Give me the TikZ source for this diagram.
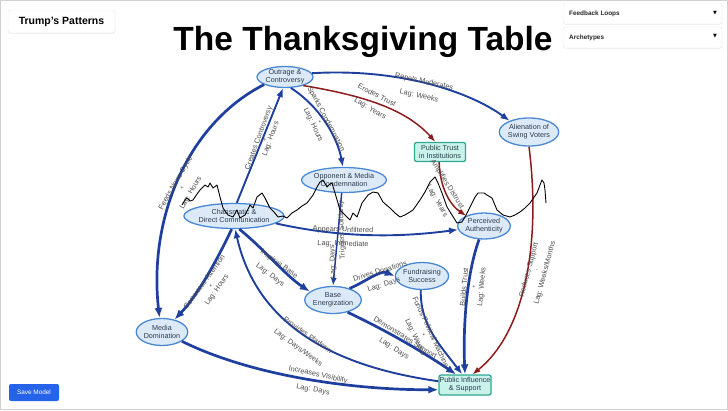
\documentclass[tikz,border=0pt]{standalone}
\usepackage{fontspec}
\setmainfont{Liberation Sans}
\newfontfamily\symfont{DejaVu Sans}
\usetikzlibrary{arrows.meta,shapes.geometric,shadows}

\definecolor{edgeblue}{HTML}{1E3F9E}
\definecolor{edgered}{HTML}{8E1B1B}
\definecolor{ellfill}{HTML}{DCEAF8}
\definecolor{elldraw}{HTML}{4A88D6}
\definecolor{tealfill}{HTML}{C9F2EA}
\definecolor{tealdraw}{HTML}{2FA890}
\definecolor{labelgray}{HTML}{4C4C4C}
\definecolor{nodetext}{HTML}{2A3B4C}
\definecolor{btnblue}{HTML}{2563EB}

\tikzset{
  ell/.style={ellipse, draw=elldraw, line width=1.3pt, fill=ellfill, inner sep=0pt,
    align=center, font=\fontsize{7.2}{8}\selectfont, text=nodetext},
  sq/.style={rectangle, rounded corners=2pt, draw=tealdraw, line width=1.3pt, fill=tealfill,
    inner sep=0pt, align=center, font=\fontsize{7.2}{8}\selectfont, text=nodetext},
  lbl/.style={font=\fontsize{7.3}{8}\selectfont, text=labelgray, inner sep=0pt},
  sgn/.style={font=\fontsize{5.5}{6}\selectfont, text=labelgray, inner sep=0pt},
  bl/.style={draw=edgeblue, line width=1.9pt, -{Latex[length=9pt,width=7pt]}},
  blt/.style={draw=edgeblue, line width=2.7pt, -{Latex[length=10pt,width=8pt]}},
  bln/.style={draw=edgeblue, line width=1.5pt, -{Latex[length=8pt,width=6pt]}},
  rd/.style={draw=edgered, line width=1.5pt, -{Latex[length=8pt,width=6pt]}},
  uibox/.style={rectangle, rounded corners=2.5pt, draw=black!10, fill=white,
    drop shadow={opacity=0.12, shadow xshift=0.4pt, shadow yshift=-0.8pt}},
  uitext/.style={font=\bfseries\fontsize{6.4}{7}\selectfont, text=black!85, inner sep=0pt},
}

\begin{document}
\begin{tikzpicture}[x=1pt,y=-1pt]
\useasboundingbox (0,0) rectangle (728,410);
\draw[black!18, line width=0.8pt] (0.4,0.4) rectangle (727.6,409.6);

% UI elements
\node[uibox, minimum width=107pt, minimum height=23pt, font=\bfseries\fontsize{10.5}{12}\selectfont] (patterns) at (61.5,21.5) {Trump's Patterns};
\node[uibox, minimum width=159pt, minimum height=21pt] (dd1) at (642.5,13.5) {};
\node[uibox, minimum width=159pt, minimum height=21pt] (dd2) at (642.5,37.5) {};
\node[uitext, anchor=west] (dd1t) at (569,13.5) {Feedback Loops};
\node[uitext, anchor=west] (dd2t) at (569,37.5) {Archetypes};
\node[font=\symfont\fontsize{5}{6}\selectfont, inner sep=0pt] (dd1a) at (715,13) {▼};
\node[font=\symfont\fontsize{5}{6}\selectfont, inner sep=0pt] (dd2a) at (715,36.5) {▼};
\node[rectangle, rounded corners=2pt, fill=btnblue, minimum width=50pt, minimum height=17pt,
  text=white, font=\fontsize{6.4}{7}\selectfont] (save) at (34,392.5) {Save Model};

% Title
\node[anchor=base, font=\bfseries\fontsize{33.5}{40}\selectfont, inner sep=0pt] (title) at (363,50) {The Thanksgiving Table};

% Nodes
\node[ell, minimum width=56pt, minimum height=21pt] (out) at (285,77) {Outrage \&\\Controversy};
\node[ell, minimum width=76pt, minimum height=25pt] (opp) at (344,180) {Opponent \& Media\\Condemnation};
\node[ell, minimum width=88pt, minimum height=25pt] (char) at (234,216) {Charismatic \&\\Direct Communication};
\node[ell, minimum width=49pt, minimum height=26pt] (perc) at (484,226) {Perceived\\Authenticity};
\node[ell, minimum width=53pt, minimum height=28pt] (alien) at (529,132) {Alienation of\\Swing Voters};
\node[sq, minimum width=51pt, minimum height=19pt] (trust) at (440,152) {Public Trust\\in Institutions};
\node[ell, minimum width=51pt, minimum height=27pt] (base) at (333,300) {Base\\Energization};
\node[ell, minimum width=48pt, minimum height=27pt] (fund) at (422,276) {Fundraising\\Success};
\node[sq, minimum width=52pt, minimum height=20pt] (pinf) at (465,385) {Public Influence\\\& Support};
\node[ell, minimum width=49pt, minimum height=27pt] (media) at (162,332) {Media\\Domination};

% Edges
\draw[bl] (out.8) .. controls (400,68) and (470,92) .. (alien.150);
\draw[rd] (out.-25) .. controls (360,95) and (405,108) .. (trust.115);
\draw[bl] (out.-62) .. controls (322,108) and (338,140) .. (opp.95);
\draw[bl] (char.78) -- (out.-100);
\draw[blt] (out.200) .. controls (190,122) and (148,215) .. (media.100);
\draw[blt] (char.-100) .. controls (218,258) and (198,295) .. (media.45);
\draw[blt] (char.-68) .. controls (265,250) and (285,275) .. (base.160);
\draw[bl] (char.-10) .. controls (350,240) and (410,236) .. (perc.188);
\draw[bln] (opp.-100) -- (base.north);
\draw[blt] (base.35) .. controls (365,282) and (380,270) .. (fund.180);
\draw[blt] (base.-40) .. controls (385,330) and (420,350) .. (pinf.130);
\draw[bl] (fund.-95) .. controls (420,325) and (440,345) .. (pinf.105);
\draw[blt] (perc.-110) .. controls (466,275) and (463,330) .. (pinf.90);
\draw[rd] (trust.-95) .. controls (440,188) and (450,205) .. (perc.150);
\draw[rd] (alien.-90) .. controls (542,250) and (522,335) .. (pinf.55);
\draw[bl] (pinf.172) .. controls (360,370) and (260,340) .. (char.-85);
\draw[blt] (media.-25) .. controls (250,375) and (350,390) .. (pinf.190);

% Edge labels
\node[lbl, rotate=-12] (l1a) at (424,82) {Repels Moderates};
\node[lbl, rotate=-12] (l1b) at (419,96) {Lag: Weeks};
\node[lbl, rotate=-27] (l2a) at (377,95) {Erodes Trust};
\node[lbl, rotate=-30] (l2b) at (370,109) {Lag: Years};
\node[lbl, rotate=-62] (l3a) at (326,119) {Sparks Condemnation};
\node[sgn] (l3s) at (320,122) {+};
\node[lbl, rotate=-65] (l3b) at (313,125) {Lag: Hours};
\node[lbl, rotate=70] (l4a) at (259,138) {Creates Controversy};
\node[sgn] (l4s) at (265,140) {+};
\node[lbl, rotate=70] (l4b) at (271,139) {Lag: Hours};
\node[lbl, rotate=60] (l5a) at (176,183) {Feeds News Cycle};
\node[sgn] (l5s) at (182,188) {+};
\node[lbl, rotate=60] (l5b) at (191,193) {Lag: Hours};
\node[lbl, rotate=54] (l6a) at (204,282) {Generates Attention};
\node[sgn] (l6s) at (211,286) {+};
\node[lbl, rotate=55] (l6b) at (217,290) {Lag: Hours};
\node[lbl, rotate=-36] (l7a) at (279,264) {Inspires Base};
\node[lbl, rotate=-38] (l7b) at (270,275) {Lag: Days};
\node[lbl, rotate=-2] (l8a) at (343,230) {Appears Unfiltered};
\node[lbl, rotate=-2] (l8b) at (343,244) {Lag: Immediate};
\node[lbl, rotate=92] (l9a) at (342,230) {Triggers Solidarity};
\node[lbl, rotate=92] (l9b) at (333,262) {Lag: Days};
\node[lbl, rotate=17] (l10a) at (380,271) {Drives Donations};
\node[lbl, rotate=17] (l10b) at (384,285) {Lag: Days};
\node[lbl, rotate=-32] (l11a) at (405,338) {Demonstrates Support};
\node[lbl, rotate=-32] (l11b) at (394,349) {Lag: Days};
\node[lbl, rotate=-65] (l12a) at (431,332) {Funds Political Machine};
\node[sgn] (l12s) at (424,335) {+};
\node[lbl, rotate=-65] (l12b) at (415,337) {Lag: Weeks};
\node[lbl, rotate=85] (l13a) at (464,287) {Builds Trust};
\node[sgn] (l13s) at (474,287) {+};
\node[lbl, rotate=85] (l13b) at (482,287) {Lag: Weeks};
\node[lbl, rotate=-58] (l14a) at (447,184) {Amplifies Distrust};
\node[lbl, rotate=-60] (l14b) at (437,201) {Lag: Years};
\node[lbl, rotate=75] (l15a) at (529,270) {Reduces Support};
\node[sgn] (l15s) at (537,271) {-};
\node[lbl, rotate=75] (l15b) at (545,273) {Lag: Weeks/Months};
\node[lbl, rotate=-35] (l16a) at (308,335) {Provides Platform};
\node[lbl, rotate=-36] (l16b) at (298,348) {Lag: Days/Weeks};
\node[lbl, rotate=-12] (l17a) at (318,375) {Increases Visibility};
\node[lbl, rotate=-10] (l17b) at (313,390) {Lag: Days};

% Freehand black line
\draw[black, line width=0.9pt, line join=round]
 (182,205) -- (185,200) -- (187,198) -- (190,201) -- (193,200) -- (197,194) -- (200,190)
 -- (205,185) -- (208,187) -- (210,183) -- (213,188) -- (217,185) -- (220,197) -- (223,208)
 -- (228,215) -- (233,217) -- (237,210) -- (240,218) -- (245,215) -- (250,205) -- (253,208)
 -- (257,197) -- (262,193) -- (265,198) -- (270,208) -- (274,212) -- (278,217) -- (283,216)
 -- (287,218) -- (292,213) -- (297,210) -- (302,206) -- (307,203) -- (313,195) -- (317,187)
 -- (320,182) -- (323,180) -- (327,187) -- (330,184) -- (332,183) -- (335,193) -- (340,210)
 -- (343,213) -- (347,217) -- (350,220) -- (353,213) -- (357,217) -- (362,203) -- (368,195)
 -- (373,192) -- (378,193) -- (383,202) -- (390,208) -- (395,213) -- (400,217) -- (405,215)
 -- (413,210) -- (420,200) -- (425,192) -- (430,182) -- (435,177) -- (438,183) -- (442,193)
 -- (447,207) -- (452,215) -- (457,223) -- (462,222) -- (465,217) -- (470,207) -- (475,197)
 -- (478,193) -- (484,193) -- (487,195) -- (492,198) -- (497,210) -- (503,215) -- (510,217)
 -- (515,215) -- (520,212) -- (525,208) -- (530,203) -- (537,193) -- (540,185) -- (542,180)
 -- (544,183) -- (545,190) -- (546,203);
\end{tikzpicture}
\end{document}
